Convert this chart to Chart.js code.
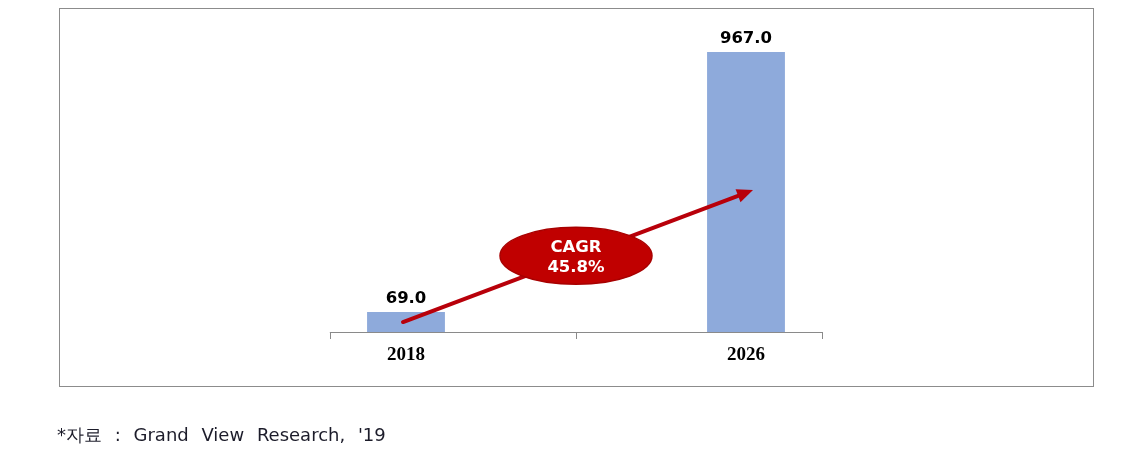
<!DOCTYPE html>
<html>
<head>
<meta charset="utf-8">
<script src="https://cdn.jsdelivr.net/npm/chart.js@4/dist/chart.umd.min.js"></script>
<style>
  html, body { margin: 0; padding: 0; background: #fff; }
  #wrap { position: relative; width: 1129px; height: 472px; }
  canvas { display: block; }
</style>
</head>
<body>
<div id="wrap"><canvas id="c" width="1129" height="472"></canvas></div>
<script>
const categories = ['2018', '2026'];
const marketValues = [69.0, 967.0];
const cagrLines = ['CAGR', '45.8%'];
const sourceNote = "*자료 : Grand View Research, '19";
// arrow endpoints expressed in data terms: [category index, value]
const arrowStart = [0, 34.5];
const arrowEnd = [1, 490];

const decorPlugin = {
  id: 'decor',
  beforeDraw(chart) {
    const ctx = chart.ctx;
    ctx.save();
    ctx.fillStyle = '#fff';
    ctx.fillRect(0, 0, chart.width, chart.height);
    // outer frame
    ctx.strokeStyle = '#8c8c8c';
    ctx.lineWidth = 1;
    ctx.strokeRect(59.5, 8.5, 1034, 378);
    // footnote
    ctx.fillStyle = '#1c1c2a';
    ctx.font = '18px "DejaVu Sans", sans-serif';
    ctx.textBaseline = 'middle';
    ctx.textAlign = 'left';
    if ('wordSpacing' in ctx) ctx.wordSpacing = '7px';
    ctx.fillText(sourceNote, 57, 436);
    ctx.restore();
  },
  afterDatasetsDraw(chart) {
    const ctx = chart.ctx;
    const xs = chart.scales.x, ys = chart.scales.y;
    const base = chart.chartArea.bottom;
    const cw = xs.getPixelForValue(1) - xs.getPixelForValue(0);
    const left = xs.getPixelForValue(0) - 0.224 * cw;
    const right = xs.getPixelForValue(1) + 0.224 * cw;
    const mid = (xs.getPixelForValue(0) + xs.getPixelForValue(1)) / 2;
    ctx.save();
    // axis line & ticks
    ctx.strokeStyle = '#8a8a8a';
    ctx.lineWidth = 1;
    ctx.beginPath();
    ctx.moveTo(left, base + 0.5); ctx.lineTo(right, base + 0.5);
    [left, mid, right].forEach(px => {
      const x = Math.round(px) + 0.5;
      ctx.moveTo(x, base); ctx.lineTo(x, base + 7);
    });
    ctx.stroke();
    // value labels
    const meta = chart.getDatasetMeta(0);
    ctx.fillStyle = '#000';
    ctx.font = 'bold 16.5px "DejaVu Sans", sans-serif';
    ctx.textAlign = 'center';
    ctx.textBaseline = 'middle';
    meta.data.forEach((bar, i) => {
      ctx.fillText(marketValues[i].toFixed(1), bar.x, bar.y - 13);
    });
    // arrow
    const x0 = xs.getPixelForValue(arrowStart[0]) - 3, y0 = ys.getPixelForValue(arrowStart[1]);
    const x1 = xs.getPixelForValue(arrowEnd[0]) + 7, y1 = ys.getPixelForValue(arrowEnd[1]);
    const ang = Math.atan2(y1 - y0, x1 - x0);
    const headLen = 16, headW = 7;
    const bx = x1 - headLen * Math.cos(ang), by = y1 - headLen * Math.sin(ang);
    ctx.strokeStyle = '#b8000a';
    ctx.lineWidth = 4;
    ctx.lineCap = 'round';
    ctx.beginPath();
    ctx.moveTo(x0, y0); ctx.lineTo(bx, by);
    ctx.stroke();
    ctx.fillStyle = '#b8000a';
    ctx.beginPath();
    ctx.moveTo(x1, y1);
    ctx.lineTo(bx + headW * Math.sin(ang), by - headW * Math.cos(ang));
    ctx.lineTo(bx - headW * Math.sin(ang), by + headW * Math.cos(ang));
    ctx.closePath();
    ctx.fill();
    // ellipse
    const t = (mid - x0) / (x1 - x0);
    const ex = mid, ey = y0 + t * (y1 - y0) - 1;
    ctx.fillStyle = '#c00000';
    ctx.strokeStyle = '#a80000';
    ctx.lineWidth = 1.5;
    ctx.beginPath();
    ctx.ellipse(ex, ey, 76, 28.5, 0, 0, Math.PI * 2);
    ctx.fill();
    ctx.stroke();
    ctx.fillStyle = '#fff';
    ctx.font = 'bold 16.5px "DejaVu Sans", sans-serif';
    ctx.textAlign = 'center';
    ctx.textBaseline = 'middle';
    ctx.fillText(cagrLines[0], ex, ey - 8);
    ctx.fillText(cagrLines[1], ex, ey + 12);
    ctx.restore();
  }
};

new Chart(document.getElementById('c'), {
  type: 'bar',
  data: {
    labels: categories,
    datasets: [{
      data: marketValues,
      backgroundColor: '#8eaadb',
      borderWidth: 0,
      barPercentage: 0.229,
      categoryPercentage: 1.0
    }]
  },
  options: {
    responsive: false,
    animation: false,
    events: [],
    layout: { padding: { left: 236, right: 213, top: 52, bottom: 0 } },
    plugins: { legend: { display: false }, tooltip: { enabled: false }, title: { display: false } },
    scales: {
      x: {
        grid: { display: false },
        border: { display: false },
        ticks: {
          color: '#000',
          font: { family: '"Liberation Serif", "DejaVu Serif", serif', weight: 'bold', size: 19 },
          padding: 4
        },
        afterFit(scale) { scale.height = 140; }
      },
      y: {
        display: false,
        min: 0,
        max: 967
      }
    }
  },
  plugins: [decorPlugin]
});
</script>
</body>
</html>
